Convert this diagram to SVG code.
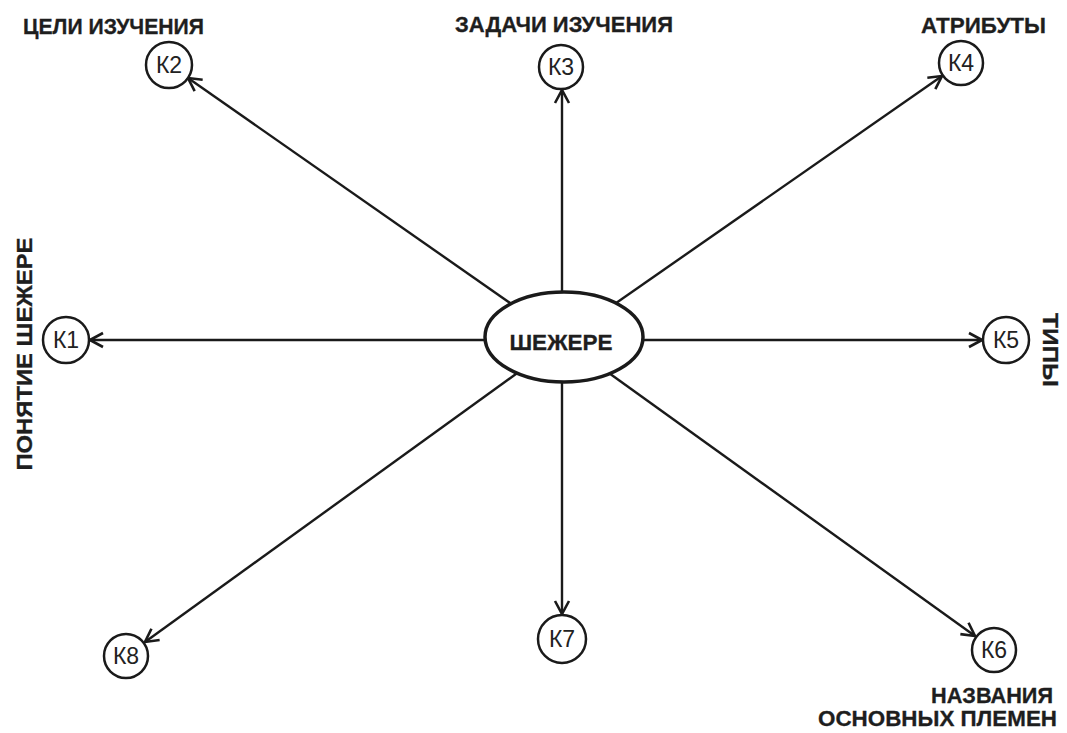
<svg xmlns="http://www.w3.org/2000/svg" width="1067" height="733" viewBox="0 0 1067 733">
<style>
.lbl{font-family:"Liberation Sans",Arial,sans-serif;font-weight:bold;font-size:22px;fill:#1e1e1e;stroke:#1e1e1e;stroke-width:0.3}
.k{font-family:"Liberation Sans",Arial,sans-serif;font-size:23px;fill:#222;text-anchor:middle}
.node circle{fill:#fff;stroke:#1a1a1a;stroke-width:2.5}
.conn line{stroke:#1a1a1a;stroke-width:2.4;marker-end:url(#ah)}
</style>
<defs>
<marker id="ah" viewBox="-16 -9 18 18" markerWidth="18" markerHeight="18" refX="0" refY="0" orient="auto" markerUnits="userSpaceOnUse">
<path d="M-13,-7 L0,0 L-13,7" fill="none" stroke="#1a1a1a" stroke-width="2.6"/>
</marker>
</defs>
<rect width="1067" height="733" fill="#fff"/>
<g id="connectors" class="conn">
<line x1="563" y1="340" x2="90" y2="340"/>
<line x1="563" y1="340" x2="188" y2="78"/>
<line x1="562" y1="340" x2="562" y2="90"/>
<line x1="563" y1="340" x2="942" y2="76"/>
<line x1="563" y1="340" x2="982" y2="340"/>
<line x1="563" y1="340" x2="975" y2="636"/>
<line x1="562" y1="340" x2="562" y2="614"/>
<line x1="563" y1="340" x2="145" y2="642"/>
</g>
<g id="center">
<ellipse cx="564" cy="337" rx="79" ry="45" fill="#fff" stroke="#1a1a1a" stroke-width="3.5"/>
<text x="561" y="350" class="lbl" text-anchor="middle" font-size="24" textLength="103" lengthAdjust="spacingAndGlyphs">ШЕЖЕРЕ</text>
</g>
<g id="k1" class="node">
<circle cx="66" cy="340" r="23"/>
<text x="66" y="348" class="k">К1</text>
<text class="lbl" text-anchor="middle" font-size="23" textLength="233" lengthAdjust="spacingAndGlyphs" transform="translate(32,354) rotate(-90)">ПОНЯТИЕ ШЕЖЕРЕ</text>
</g>
<g id="k2" class="node">
<circle cx="169" cy="65" r="23"/>
<text x="169" y="73" class="k">К2</text>
<text x="23" y="34" class="lbl" textLength="181" lengthAdjust="spacingAndGlyphs">ЦЕЛИ ИЗУЧЕНИЯ</text>
</g>
<g id="k3" class="node">
<circle cx="561" cy="67" r="22"/>
<text x="561" y="75" class="k">К3</text>
<text x="455" y="32" class="lbl" textLength="218" lengthAdjust="spacingAndGlyphs">ЗАДАЧИ ИЗУЧЕНИЯ</text>
</g>
<g id="k4" class="node">
<circle cx="961" cy="63" r="22"/>
<text x="961" y="71" class="k">К4</text>
<text x="921" y="33" class="lbl" textLength="125" lengthAdjust="spacingAndGlyphs">АТРИБУТЫ</text>
</g>
<g id="k5" class="node">
<circle cx="1006" cy="340" r="23"/>
<text x="1006" y="348" class="k">К5</text>
<text class="lbl" text-anchor="middle" font-size="23" textLength="74" lengthAdjust="spacingAndGlyphs" transform="translate(1043,350) rotate(90)">ТИПЫ</text>
</g>
<g id="k6" class="node">
<circle cx="994" cy="650" r="22"/>
<text x="994" y="658" class="k">К6</text>
<text x="1053" y="703" class="lbl" text-anchor="end" font-size="21" textLength="122" lengthAdjust="spacingAndGlyphs">НАЗВАНИЯ</text>
<text x="1057" y="726" class="lbl" text-anchor="end" font-size="21" textLength="239" lengthAdjust="spacingAndGlyphs">ОСНОВНЫХ ПЛЕМЕН</text>
</g>
<g id="k7" class="node">
<circle cx="562" cy="639" r="24"/>
<text x="562" y="647" class="k">К7</text>
</g>
<g id="k8" class="node">
<circle cx="126" cy="656" r="22"/>
<text x="126" y="664" class="k">К8</text>
</g>
</svg>
